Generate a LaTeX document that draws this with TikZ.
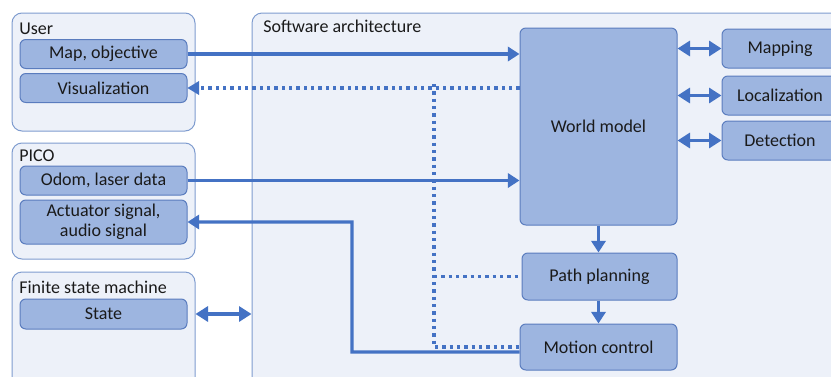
\documentclass[tikz,border=0pt]{standalone}
\usepackage{fontspec}
\setmainfont{Carlito}
\usetikzlibrary{positioning,arrows.meta}
\definecolor{cPane}{HTML}{EDF1F9}
\definecolor{cPaneLine}{HTML}{7F9CCF}
\definecolor{cBox}{HTML}{9DB5E0}
\definecolor{cBoxLine}{HTML}{5A7CBE}
\definecolor{cFlow}{HTML}{4472C4}
\definecolor{cInk}{HTML}{1A1A1A}

\begin{document}
\begin{tikzpicture}[x=0.6pt,y=-0.6pt,
    font=\fontsize{10.8}{12.6}\selectfont,text=cInk,
    pane/.style={draw=cPaneLine,fill=cPane,line width=0.6pt,rounded corners=6pt,inner sep=0pt},
    block/.style={draw=cBoxLine,fill=cBox,line width=0.6pt,rounded corners=3.5pt,
                  align=center,inner sep=0pt,minimum height=17.4pt},
    caption/.style={anchor=west,inner sep=0pt},
    flow/.style={draw=cFlow,line width=2pt,-{Triangle[width=8.5pt,length=7pt]}},
    twoway/.style={draw=cFlow,line width=2.2pt,{Triangle[width=9pt,length=7.5pt]}-{Triangle[width=9pt,length=7.5pt]}},
    feedback/.style={draw=cFlow,line width=2pt,dash pattern=on 2pt off 2.4pt}]
    \useasboundingbox (0,0) rectangle (831,376);
    \clip (0,0) rectangle (831,376);
    \fill[white] (0,0) rectangle (831,376);

    % outer groups
    \node[pane,minimum width=109.8pt,minimum height=70.8pt] (user) at (103.5,72) {};
    \node[pane,minimum width=109.8pt,minimum height=69.6pt] (pico) at (103.5,201) {};
    \node[pane,minimum width=109.8pt,minimum height=76.8pt] (fsm) at (103.5,336) {};
    \node[pane,minimum width=364.8pt,minimum height=232.2pt] (soft) at (556,206.5) {};

    \node[caption] (userlbl) at (19,29) {User};
    \node[caption] (picolbl) at (19,156) {PICO};
    \node[caption] (fsmlbl) at (19,287) {Finite state machine};
    \node[caption] (softlbl) at (263,26) {Software architecture};

    % left column
    \node[block,minimum width=100.2pt] (map) at (103.5,54) {Map, objective};
    \node[block,minimum width=100.2pt] (vis) at (103.5,88) {Visualization};
    \node[block,minimum width=100.2pt] (odom) at (103.5,180.5) {Odom, laser data};
    \node[block,minimum width=100.2pt,minimum height=26.4pt] (act) at (103.5,222)
      {Actuator signal,\\[-0.5pt]audio signal};
    \node[block,minimum width=100.2pt,minimum height=18pt] (state) at (103.5,314) {State};

    % software blocks
    \node[block,minimum width=94.2pt,minimum height=118.2pt] (world) at (598.5,126.5) {World model};
    \node[block,minimum width=69.6pt,minimum height=23.4pt] (mapping) at (780,48.5) {Mapping};
    \node[block,minimum width=69.6pt,minimum height=23.4pt] (local) at (780,95.5) {Localization};
    \node[block,minimum width=69.6pt,minimum height=23.4pt] (detect) at (780,140.5) {Detection};
    \node[block,minimum width=93pt,minimum height=28.2pt] (path) at (599.5,276.5) {Path planning};
    \node[block,minimum width=94.2pt,minimum height=27.6pt] (motion) at (598.5,347) {Motion control};

    \coordinate (split) at (434,84);
    \coordinate (bend) at (352,352);

    % data flow
    \draw[flow] (map.east) -- (map.east -| world.west);
    \draw[flow] (odom.east) -- (odom.east -| world.west);
    \draw[flow] (world.south) -- (world.south |- path.north);
    \draw[flow] (path.south -| world.south) -- (motion.north -| world.south);
    \draw[flow] ([yshift=-3pt]motion.west) -- (bend) -- (bend |- act.east) -- (act.east);
    \draw[twoway] (world.east |- mapping.west) -- (mapping.west);
    \draw[twoway] (world.east |- local.west) -- (local.west);
    \draw[twoway] (world.east |- detect.west) -- (detect.west);
    \draw[twoway] (fsm.east |- state.east) -- (soft.west |- state.east);

    % dotted feedback to the user
    \draw[feedback] (world.west |- vis.east) -- ([xshift=7pt]vis.east);
    \fill[cFlow] (vis.east) -- ++(7pt,4.25pt) -- ++(0,-8.5pt) -- cycle;
    \draw[feedback] (split) -- (split |- motion.west) -- (motion.west);
    \draw[feedback] (split |- path.west) -- (path.west);
\end{tikzpicture}
\end{document}
